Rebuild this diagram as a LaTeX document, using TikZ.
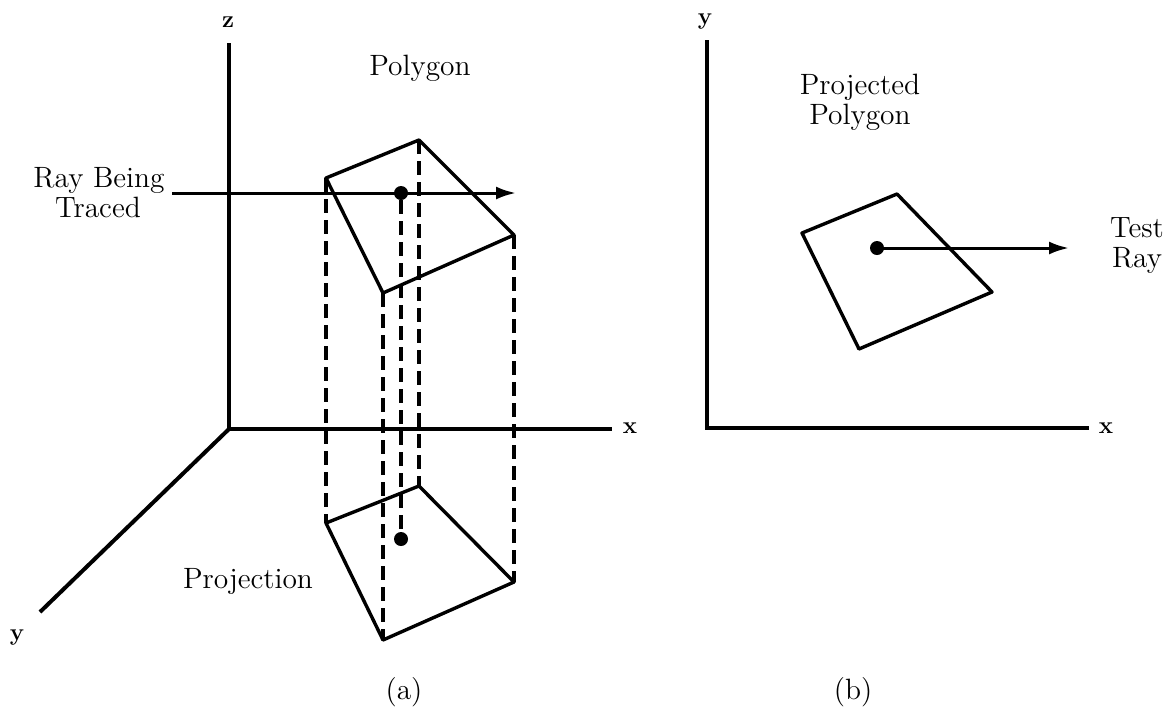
\documentclass[tikz,border=0pt]{standalone}
\usetikzlibrary{arrows.meta}
\begin{document}
\begin{tikzpicture}[x=0.5pt,y=-0.5pt,
  axis/.style={line width=2pt},
  poly/.style={line width=1.7pt,line join=round},
  proj/.style={line width=2pt,dash pattern=on 7pt off 3.5pt},
  ray/.style={line width=1.5pt,-{Latex[length=10pt,width=6.5pt]}},
  dot/.style={circle,fill=black,inner sep=0pt,minimum size=7pt},
  lbl/.style={font=\fontsize{14.7}{15}\selectfont,inner sep=0pt},
  axl/.style={font=\bfseries\fontsize{12}{14}\selectfont,inner sep=0pt}]
\useasboundingbox (0,0) rectangle (1170,725);
% ---------- panel (a) ----------
\coordinate (O) at (229,429);
\coordinate (Zt) at (229,43);
\coordinate (Xe) at (612,429);
\coordinate (Ye) at (40,612);
\draw[axis] (Zt) -- (O) -- (Xe);
\draw[axis] (O) -- (Ye);
\node[axl] (zl) at (228,22) {z};
\node[axl] (xl) at (630,428) {x};
\node[axl] (yl) at (17,638) {y};
% top polygon
\coordinate (A1) at (326,178);
\coordinate (A2) at (419,140);
\coordinate (A3) at (514,235);
\coordinate (A4) at (383,293);
% bottom polygon
\coordinate (B1) at (326,523);
\coordinate (B2) at (419,486);
\coordinate (B3) at (514,582);
\coordinate (B4) at (383,640);
\draw[proj] (A1) -- (B1);
\draw[proj] (A2) -- (B2);
\draw[proj] (A3) -- (B3);
\draw[proj] (A4) -- (B4);
\draw[poly] (A1) -- (A2) -- (A3) -- (A4) -- cycle;
\draw[poly] (B1) -- (B2) -- (B3) -- (B4) -- cycle;
\coordinate (Rs) at (172,193);
\coordinate (Re) at (516,193);
\draw[ray] (Rs) -- (Re);
\node[dot] (D1) at (401,193) {};
\node[dot] (D2) at (401,539) {};
\draw[proj] (D1) -- (D2);
\node[lbl,anchor=base] (tpoly) at (420,75) {Polygon};
\node[lbl,anchor=base] (tray1) at (99,187) {Ray Being};
\node[lbl,anchor=base] (tray2) at (98,217) {Traced};
\node[lbl,anchor=base] (tproj) at (248,588) {Projection};
\node[lbl] (ta) at (404,692) {(a)};
% ---------- panel (b) ----------
\coordinate (O2) at (707,428);
\coordinate (Yt2) at (707,40);
\coordinate (Xe2) at (1089,428);
\draw[axis] (Yt2) -- (O2) -- (Xe2);
\node[axl] (yl2) at (705,22) {y};
\node[axl] (xl2) at (1106,428) {x};
\coordinate (P1) at (802,233);
\coordinate (P2) at (897,194);
\coordinate (P3) at (992,292);
\coordinate (P4) at (859,349);
\draw[poly] (P1) -- (P2) -- (P3) -- (P4) -- cycle;
\node[dot] (D3) at (877,248) {};
\coordinate (Te) at (1069,248);
\draw[ray] (D3.center) -- (Te);
\node[lbl,anchor=base] (tpp1) at (860,94) {Projected};
\node[lbl,anchor=base] (tpp2) at (860,124) {Polygon};
\node[lbl,anchor=base] (ttr1) at (1137,237) {Test};
\node[lbl,anchor=base] (ttr2) at (1137,267) {Ray};
\node[lbl] (tb) at (853,692) {(b)};
\end{tikzpicture}
\end{document}
